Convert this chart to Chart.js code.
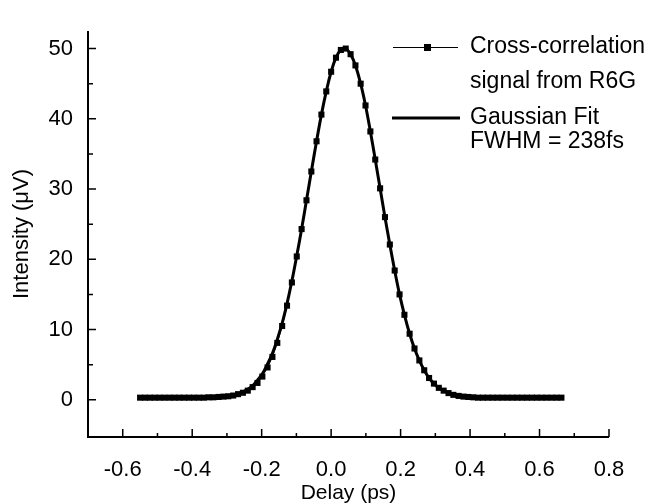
<!DOCTYPE html>
<html>
<head>
<meta charset="utf-8">
<script src="https://cdn.jsdelivr.net/npm/chart.js@4"></script>
<style>
html,body{margin:0;padding:0;background:#fff;}
#wrap{width:650px;height:504px;position:relative;}
</style>
</head>
<body>
<div id="wrap"><canvas id="c" width="650" height="504"></canvas></div>
<script>
const delays = [-0.550,-0.536,-0.522,-0.508,-0.494,-0.480,-0.465,-0.451,-0.437,-0.423,-0.409,-0.395,-0.381,-0.367,-0.353,-0.339,-0.324,-0.310,-0.296,-0.282,-0.268,-0.254,-0.240,-0.226,-0.212,-0.198,-0.183,-0.169,-0.155,-0.141,-0.127,-0.113,-0.099,-0.085,-0.071,-0.057,-0.042,-0.028,-0.014,0.000,0.014,0.028,0.042,0.056,0.070,0.085,0.099,0.113,0.127,0.141,0.155,0.169,0.183,0.197,0.211,0.226,0.240,0.254,0.268,0.282,0.296,0.310,0.324,0.338,0.352,0.367,0.381,0.395,0.409,0.423,0.437,0.451,0.465,0.479,0.493,0.508,0.522,0.536,0.550,0.564,0.578,0.592,0.606,0.620,0.635,0.649,0.663];
const signalR6G = [0.3,0.3,0.3,0.3,0.3,0.3,0.3,0.3,0.3,0.3,0.3,0.3,0.3,0.3,0.35,0.35,0.4,
  0.45,0.5,0.6,0.8,1.0,1.3,1.8,2.4,3.3,4.6,6.1,8.1,10.5,13.4,16.7,20.4,24.3,28.4,32.5,36.8,40.6,43.9,46.7,48.7,49.8,50.0,49.2,47.6,45.0,41.9,38.2,34.2,30.1,26.0,22.1,18.4,15.0,12.1,9.4,7.3,5.6,4.2,3.1,2.3,1.7,1.3,0.95,0.7,0.55,0.45,0.4,0.35,
  0.3,0.3,0.3,0.3,0.3,0.3,0.3,0.3,0.3,0.3,0.3,0.3,0.3,0.3,0.3,0.3,0.3,0.3];
const gaussFit = [0.3,0.3,0.3,0.3,0.3,0.3,0.3,0.3,0.3,0.3,0.3,0.3,0.3,0.32,0.34,0.36,0.4,
  0.45,0.53,0.66,0.85,1.12,1.5,2.0,2.8,3.7,5.1,6.6,8.6,10.9,13.7,16.9,20.5,24.3,28.4,32.5,36.8,40.6,43.9,46.7,48.7,49.8,50.0,49.2,47.6,45.0,41.9,38.2,34.2,30.1,26.0,22.1,18.4,15.0,12.1,9.4,7.3,5.6,4.2,3.1,2.3,1.7,1.3,0.96,0.73,0.57,0.47,0.4,0.35,
  0.32,0.3,0.3,0.3,0.3,0.3,0.3,0.3,0.3,0.3,0.3,0.3,0.3,0.3,0.3,0.3,0.3,0.3];
const xTicks = [-0.6,-0.4,-0.2,0.0,0.2,0.4,0.6,0.8];
const xMinorTicks = [-0.5,-0.3,-0.1,0.1,0.3,0.5,0.7];
const yTicks = [0,10,20,30,40,50];
const yMinorTicks = [5,15,25,35,45];
const legendSignal = ['Cross-correlation','signal from R6G'];
const legendFit = ['Gaussian Fit','FWHM = 238fs'];
const xTitle = 'Delay (ps)';
const yTitle = 'Intensity (\u03BCV)';

const FONT = '"Liberation Sans", Arial, sans-serif';

const axesPlugin = {
  id: 'axesPlugin',
  afterDraw(chart) {
    const ctx = chart.ctx;
    const a = chart.chartArea;
    const xs = chart.scales.x, ys = chart.scales.y;
    ctx.save();
    ctx.strokeStyle = '#000';
    ctx.lineWidth = 2;
    ctx.beginPath();
    ctx.moveTo(a.left, a.top);
    ctx.lineTo(a.left, a.bottom);
    ctx.lineTo(a.right, a.bottom);
    ctx.stroke();
    ctx.lineWidth = 1.5;
    ctx.beginPath();
    xTicks.forEach(v => { const p = xs.getPixelForValue(v); ctx.moveTo(p, a.bottom); ctx.lineTo(p, a.bottom - 8); });
    xMinorTicks.forEach(v => { const p = xs.getPixelForValue(v); ctx.moveTo(p, a.bottom); ctx.lineTo(p, a.bottom - 4); });
    yTicks.forEach(v => { const p = ys.getPixelForValue(v); ctx.moveTo(a.left, p); ctx.lineTo(a.left + 8, p); });
    yMinorTicks.forEach(v => { const p = ys.getPixelForValue(v); ctx.moveTo(a.left, p); ctx.lineTo(a.left + 5, p); });
    ctx.stroke();

    // legend
    ctx.fillStyle = '#000';
    ctx.font = '23px ' + FONT;
    ctx.textBaseline = 'middle';
    ctx.textAlign = 'left';
    ctx.lineWidth = 1;
    ctx.beginPath();
    ctx.moveTo(393, 47.5); ctx.lineTo(458, 47.5);
    ctx.stroke();
    ctx.fillRect(424, 44, 7, 7);
    ctx.fillText(legendSignal[0], 470, 47);
    ctx.fillText(legendSignal[1], 470, 82);
    ctx.lineWidth = 3;
    ctx.beginPath();
    ctx.moveTo(392, 118); ctx.lineTo(460, 118);
    ctx.stroke();
    ctx.fillText(legendFit[0], 470, 118);
    ctx.fillText(legendFit[1], 470, 142);
    ctx.restore();
  }
};

const signalPts = delays.map((d, i) => ({x: d, y: signalR6G[i]}));
const fitPts = delays.map((d, i) => ({x: d, y: gaussFit[i]}));

new Chart(document.getElementById('c'), {
  type: 'scatter',
  data: {
    datasets: [
      {
        label: 'Gaussian Fit',
        data: fitPts,
        showLine: true,
        borderColor: '#000',
        borderWidth: 3,
        pointRadius: 0,
        tension: 0.4,
        order: 2
      },
      {
        label: 'Cross-correlation signal from R6G',
        data: signalPts,
        showLine: true,
        borderColor: '#000',
        borderWidth: 1,
        backgroundColor: '#000',
        pointStyle: 'rect',
        pointRadius: 4.3,
        pointBorderWidth: 0,
        order: 1
      }
    ]
  },
  options: {
    responsive: false,
    animation: false,
    devicePixelRatio: 1,
    layout: { padding: { top: 31, right: 41, left: 0, bottom: 0 } },
    plugins: { legend: { display: false }, tooltip: { enabled: false } },
    scales: {
      x: {
        type: 'linear',
        min: -0.7, max: 0.8,
        afterBuildTicks: s => { s.ticks = xTicks.map(v => ({value: v})); },
        afterFit: s => { s.height = 67; },
        grid: { display: false, drawTicks: false },
        border: { display: false },
        ticks: {
          autoSkip: false, maxRotation: 0,
          padding: 20,
          color: '#000',
          font: { family: FONT, size: 22 },
          callback: v => v.toFixed(1)
        },
        title: {
          display: true, text: xTitle, color: '#000',
          font: { family: FONT, size: 21, lineHeight: 1 },
          padding: { top: 0, bottom: 0 }
        }
      },
      y: {
        type: 'linear',
        min: -5.3, max: 52.5,
        afterBuildTicks: s => { s.ticks = yTicks.map(v => ({value: v})); },
        afterFit: s => { s.width = 88; },
        grid: { display: false, drawTicks: false },
        border: { display: false },
        ticks: {
          autoSkip: false,
          padding: 15,
          color: '#000',
          font: { family: FONT, size: 22 },
          callback: v => String(v)
        },
        title: {
          display: true, text: yTitle, color: '#000',
          font: { family: FONT, size: 22, lineHeight: 1 },
          padding: { top: 11, bottom: 0 }
        }
      }
    }
  },
  plugins: [axesPlugin]
});
</script>
</body>
</html>
